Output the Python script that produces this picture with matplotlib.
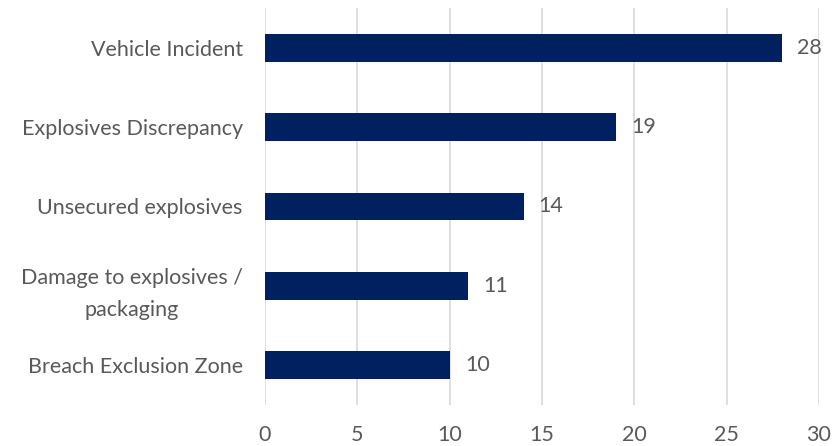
import matplotlib
matplotlib.use('Agg')
import matplotlib.pyplot as plt

categories = ['Vehicle Incident', 'Explosives Discrepancy', 'Unsecured explosives',
              'Damage to explosives /\npackaging', 'Breach Exclusion Zone']
counts = [28, 19, 14, 11, 10]
xticks = [0, 5, 10, 15, 20, 25, 30]

plt.rcParams['font.family'] = ['Lato', 'DejaVu Sans']
text_col = '#595959'
fs = 15.5

fig = plt.figure(figsize=(8.34, 4.46), dpi=100)
ax = fig.add_axes([0.3177, 0.092, 0.6643, 0.89])

ypos = list(range(len(categories)))
ax.barh(ypos, counts, height=0.35, color='#002060', zorder=3)
ax.set_ylim(len(categories) - 0.5, -0.5)
ax.set_xlim(0, 30)
ax.set_xticks(xticks)
ax.set_yticks(ypos)
ax.set_yticklabels(categories, multialignment='center', linespacing=1.75)
ax.tick_params(axis='y', length=0, pad=16, labelsize=fs, labelcolor=text_col)
ax.tick_params(axis='x', length=0, pad=14.5, labelsize=fs, labelcolor=text_col)
ax.grid(axis='x', color='#d9d9d9', linewidth=1.2, zorder=0)
for s in ax.spines.values():
    s.set_visible(False)

for y, v in zip(ypos, counts):
    ax.annotate(str(v), (v, y), xytext=(11, 0), textcoords='offset points',
                va='center', ha='left', fontsize=fs, color=text_col)

fig.savefig('out.png', dpi=100)
